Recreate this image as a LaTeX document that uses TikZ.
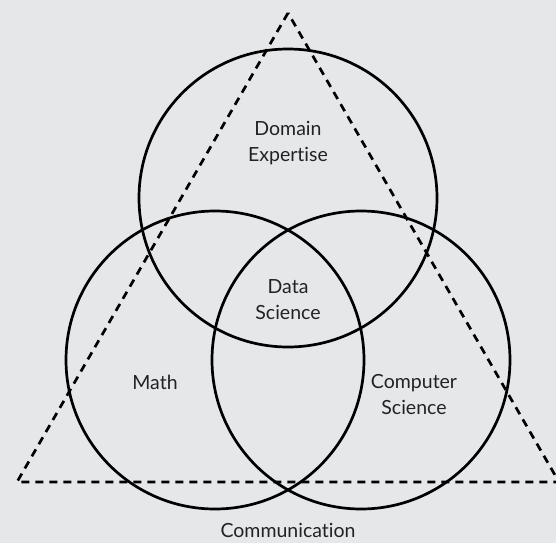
\documentclass[tikz,border=0pt]{standalone}
\usepackage{fontspec}
\setmainfont{Lato}[Ligatures={NoCommon}]
\definecolor{bg}{HTML}{E6E7E9}
\definecolor{txt}{HTML}{222222}
\begin{document}
\begin{tikzpicture}[x=1pt,y=-1pt,
  ring/.style={draw=black,line width=2.7pt},
  tri/.style={draw=black,line width=2.7pt,dash pattern=on 8pt off 6pt},
  lbl/.style={text=txt,font=\fontsize{19.5}{26}\selectfont,align=center,inner sep=0pt}]
\fill[bg] (0,0) rectangle (556,543);
\useasboundingbox (0,0) rectangle (556,543);
\coordinate (apex) at (288,13);
\coordinate (bl) at (17,482);
\coordinate (br) at (559,482);
\draw[tri] (apex) -- (bl) -- (br) -- cycle;
\node[ring,circle,minimum size=298pt,inner sep=0pt] (dom) at (288,198) {};
\node[ring,circle,minimum size=298pt,inner sep=0pt] (math) at (215,360) {};
\node[ring,circle,minimum size=298pt,inner sep=0pt] (cs) at (361,360) {};
\node[lbl] (domt) at (288,143) {Domain\\Expertise};
\node[lbl] (dst) at (288,300) {Data\\Science};
\node[lbl] (matht) at (155,382) {Math};
\node[lbl] (cst) at (414,395) {Computer\\Science};
\node[lbl] (comm) at (288,530) {Communication};
\end{tikzpicture}
\end{document}
